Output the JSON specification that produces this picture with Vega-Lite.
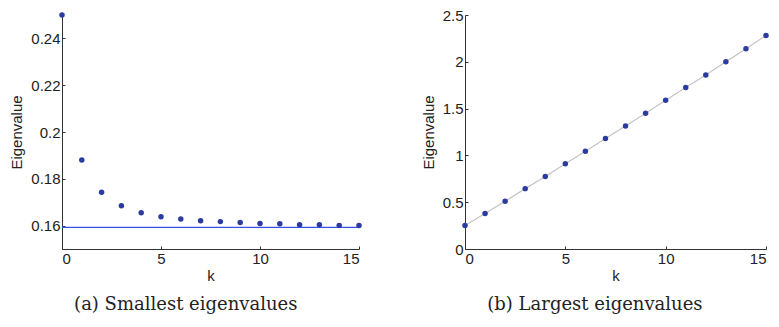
{
  "$schema": "https://vega.github.io/schema/vega-lite/v6.json",
  "padding": {"left": 9, "top": 8, "right": 5, "bottom": 5},
  "background": "white",
  "config": {
    "view": {"stroke": null},
    "axis": {
      "grid": false,
      "domainColor": "#333333",
      "tickColor": "#333333",
      "tickSize": -3,
      "labelFont": "Liberation Sans",
      "labelFontSize": 15,
      "labelColor": "#222222",
      "titleFont": "Liberation Sans",
      "titleFontSize": 15,
      "titleFontWeight": "normal",
      "titleColor": "#222222",
      "labelPadding": 5
    },
    "title": {"font": "DejaVu Serif", "fontSize": 18, "fontWeight": "normal", "color": "#222222", "orient": "bottom", "anchor": "middle", "frame": "bounds", "offset": 13}
  },
  "datasets": {
    "small": [
      {"k": 0, "v": 0.25}, {"k": 1, "v": 0.188}, {"k": 2, "v": 0.1743}, {"k": 3, "v": 0.1685},
      {"k": 4, "v": 0.1655}, {"k": 5, "v": 0.1638}, {"k": 6, "v": 0.1628}, {"k": 7, "v": 0.1621},
      {"k": 8, "v": 0.1617}, {"k": 9, "v": 0.1613}, {"k": 10, "v": 0.1609}, {"k": 11, "v": 0.1608},
      {"k": 12, "v": 0.1604}, {"k": 13, "v": 0.1604}, {"k": 14, "v": 0.1601}, {"k": 15, "v": 0.16}
    ],
    "limit": [{"k": 0, "v": 0.1592}, {"k": 15, "v": 0.1592}],
    "large": [
      {"k": 0, "v": 0.25}, {"k": 1, "v": 0.38}, {"k": 2, "v": 0.51}, {"k": 3, "v": 0.645},
      {"k": 4, "v": 0.775}, {"k": 5, "v": 0.91}, {"k": 6, "v": 1.045}, {"k": 7, "v": 1.18},
      {"k": 8, "v": 1.315}, {"k": 9, "v": 1.45}, {"k": 10, "v": 1.59}, {"k": 11, "v": 1.725},
      {"k": 12, "v": 1.86}, {"k": 13, "v": 2.0}, {"k": 14, "v": 2.14}, {"k": 15, "v": 2.28}
    ]
  },
  "hconcat": [
    {
      "width": 297,
      "height": 234,
      "title": "(a) Smallest eigenvalues",
      "layer": [
        {
          "data": {"name": "limit"},
          "mark": {"type": "line", "stroke": "#3a50e6", "strokeWidth": 1.2},
          "encoding": {
            "x": {"field": "k", "type": "quantitative"},
            "y": {"field": "v", "type": "quantitative"}
          }
        },
        {
          "data": {"name": "small"},
          "mark": {"type": "circle", "color": "#2b3b9f", "opacity": 1, "size": 30},
          "encoding": {
            "x": {"field": "k", "type": "quantitative", "scale": {"domain": [0, 15], "nice": false}, "axis": {"values": [0, 5, 10, 15], "title": "k", "titlePadding": 2}},
            "y": {"field": "v", "type": "quantitative", "scale": {"domain": [0.15, 0.25], "nice": false, "zero": false}, "axis": {"values": [0.16, 0.18, 0.2, 0.22, 0.24], "format": ".2~f", "title": "Eigenvalue", "titlePadding": 6}}
          }
        }
      ]
    },
    {
      "width": 301,
      "height": 234,
      "title": "(b) Largest eigenvalues",
      "layer": [
        {
          "data": {"name": "large"},
          "mark": {"type": "line", "stroke": "#c4c4c4", "strokeWidth": 1.2},
          "encoding": {
            "x": {"field": "k", "type": "quantitative"},
            "y": {"field": "v", "type": "quantitative"}
          }
        },
        {
          "data": {"name": "large"},
          "mark": {"type": "circle", "color": "#2b3b9f", "opacity": 1, "size": 30},
          "encoding": {
            "x": {"field": "k", "type": "quantitative", "scale": {"domain": [0, 15], "nice": false}, "axis": {"values": [0, 5, 10, 15], "title": "k", "titlePadding": 2}},
            "y": {"field": "v", "type": "quantitative", "scale": {"domain": [0, 2.5], "nice": false}, "axis": {"values": [0, 0.5, 1, 1.5, 2, 2.5], "format": "~g", "title": "Eigenvalue", "titlePadding": 6}}
          }
        }
      ]
    }
  ],
  "spacing": 59
}
